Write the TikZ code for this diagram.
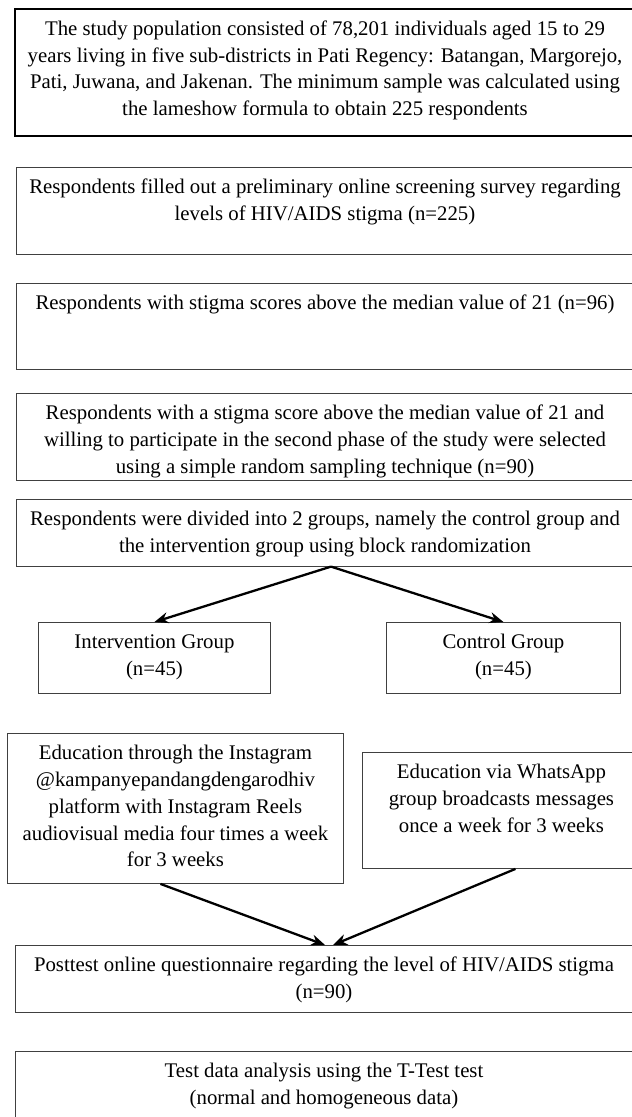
\documentclass[tikz,border=0pt]{standalone}
\usepackage{fontspec}
\setmainfont{Liberation Serif}
\usetikzlibrary{arrows.meta,positioning}

% text set at the top of a box of fixed size
\newcommand{\stagetext}[3]{\parbox[t][#2][t]{#1}{\centering\begin{tabular}[t]{@{}c@{}}#3\end{tabular}}}

\begin{document}
\begin{tikzpicture}[x=1pt,y=-1pt,>={Stealth[length=14pt,width=11pt]},
                    font=\fontsize{20.8}{26.8}\selectfont]
  \tikzstyle{stage}=[draw=black!75,line width=0.9pt,inner xsep=0pt,inner ysep=7.5pt]
  \tikzstyle{flow}=[->,line width=2.3pt]
  \useasboundingbox (0,0) rectangle (632,1117);

  \node[stage,draw=black,line width=2pt,anchor=north west] (pop) at (14,8)
    {\stagetext{620pt}{112pt}{The study population consisted of 78,201 individuals aged 15 to 29\\
     years living in five sub-districts in Pati Regency: Batangan, Margorejo,\\
     Pati, Juwana, and Jakenan. The minimum sample was calculated using\\
     the lameshow formula to obtain 225 respondents}};
  \node[stage] (screen) [below=30pt of pop]
    {\stagetext{618pt}{72pt}{Respondents filled out a preliminary online screening survey regarding\\
     levels of HIV/AIDS stigma (n=225)}};
  \node[stage] (median) [below=28pt of screen]
    {\stagetext{618pt}{71pt}{Respondents with stigma scores above the median value of 21 (n=96)}};
  \node[stage] (willing) [below=23pt of median]
    {\stagetext{618pt}{72pt}{Respondents with a stigma score above the median value of 21 and\\
     willing to participate in the second phase of the study were selected\\
     using a simple random sampling technique (n=90)}};
  \node[stage] (divide) [below=18pt of willing]
    {\stagetext{618pt}{52pt}{Respondents were divided into 2 groups, namely the control group and\\
     the intervention group using block randomization}};

  \node[stage,anchor=north west] (inter) at (38,622)
    {\stagetext{232pt}{56pt}{Intervention Group\\(n=45)}};
  \node[stage,anchor=north west] (control) at (386,622)
    {\stagetext{234pt}{56pt}{Control Group\\(n=45)}};

  \node[stage,anchor=north west] (insta) at (7,733)
    {\stagetext{336pt}{135pt}{Education through the Instagram\\
     @kampanyepandangdengarodhiv\\
     platform with Instagram Reels\\
     audiovisual media four times a week\\
     for 3 weeks}};
  \node[stage,anchor=north west] (whats) at (362,752)
    {\stagetext{278pt}{101pt}{Education via WhatsApp\\
     group broadcasts messages\\
     once a week for 3 weeks}};

  \node[stage,anchor=north] (post) at (324,945)
    {\stagetext{618pt}{52pt}{Posttest online questionnaire regarding the level of HIV/AIDS stigma\\
     (n=90)}};
  \node[stage] (ttest) [below=38pt of post]
    {\stagetext{618pt}{55pt}{Test data analysis using the T-Test test\\
     (normal and homogeneous data)}};

  \draw[flow] ([xshift=6pt]divide.south) -- (inter.north);
  \draw[flow] ([xshift=6pt]divide.south) -- (control.north);
  \draw[flow] ([xshift=-15pt]insta.south) -- ([xshift=1pt]post.north);
  \draw[flow] ([xshift=14pt]whats.south) -- ([xshift=9pt]post.north);
\end{tikzpicture}
\end{document}
